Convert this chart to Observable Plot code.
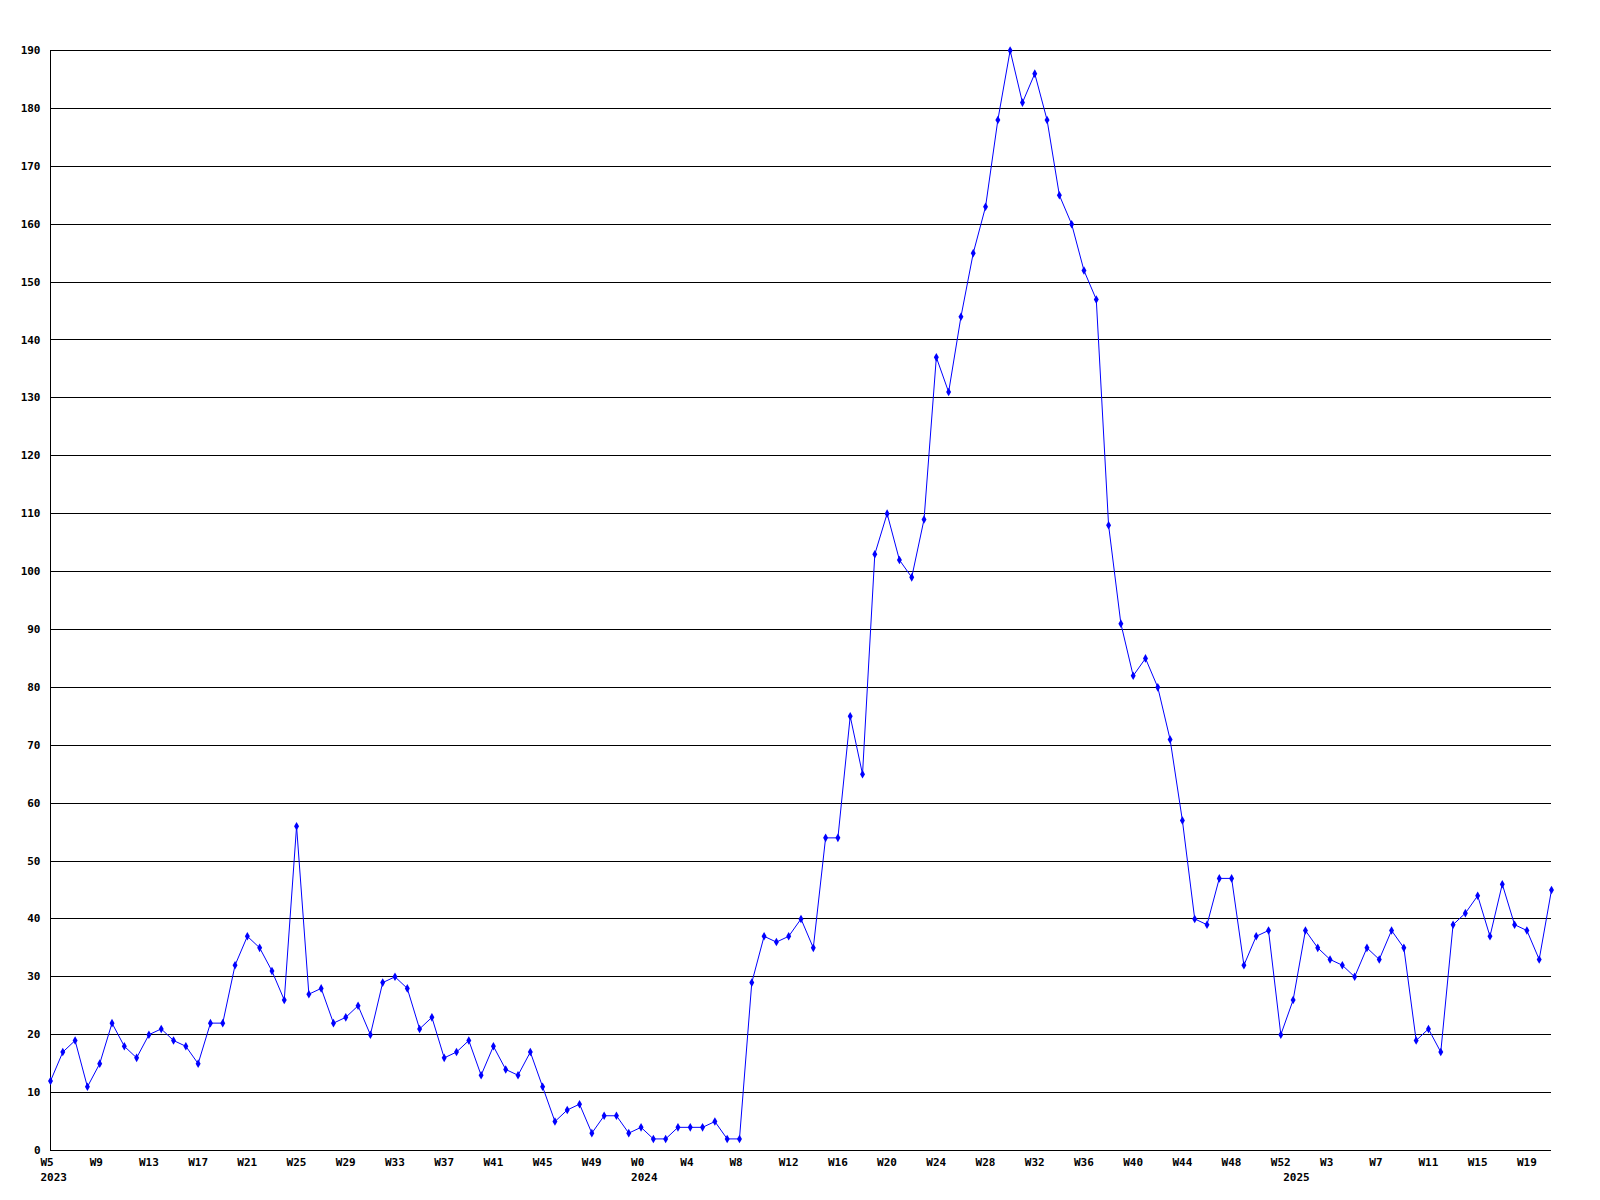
<!DOCTYPE html>
<html>
<head>
<meta charset="utf-8">
<script src="https://cdn.jsdelivr.net/npm/d3@7"></script>
<script src="https://cdn.jsdelivr.net/npm/@observablehq/plot@0.6"></script>
<style>
  html, body { margin: 0; padding: 0; background: #fff; }
  #chart svg { display: block; }
</style>
</head>
<body>
<div id="chart"></div>
<script>
// Weekly counts
const startWeek2023 = 5;
const values2023 = [12,17,19,11,15,22,18,16,20,21,19,18,15,22,22,32,37,35,31,26,56,27,28,22,23,25,20,29,30,28,21,23,16,17,19,13,18,14,13,17,11,5,7,8,3,6,6,3];
const startWeek2024 = 0;
const values2024 = [4,2,2,4,4,4,5,2,2,29,37,36,37,40,35,54,54,75,65,103,110,102,99,109,137,131,144,155,163,178,190,181,186,178,165,160,152,147,108,91,82,85,80,71,57,40,39,47,47,32,37,38,20];
const startWeek2025 = 0;
const values2025 = [26,38,35,33,32,30,35,33,38,35,19,21,17,39,41,44,37,46,39,38,33,45];
const years = [2023, 2024, 2025];
const yTicks = [0,10,20,30,40,50,60,70,80,90,100,110,120,130,140,150,160,170,180,190];

// Build table
const series = [[values2023, startWeek2023], [values2024, startWeek2024], [values2025, startWeek2025]];
const data = [];
series.forEach(([vals, start], k) => {
  vals.forEach((v, j) => data.push({i: data.length, year: years[k], week: start + j, value: v}));
});
const xTicks = data.filter(d => d.i % 4 === 0).map(d => d.i);
const weekLabel = new Map(data.map(d => [d.i, "W" + d.week]));
const yearStarts = years.map(y => data.find(d => d.year === y));

const font = "'DejaVu Sans Mono', 'Liberation Mono', monospace";

const chart = Plot.plot({
  width: 1600,
  height: 1200,
  marginLeft: 50,
  marginRight: 49,
  marginTop: 50,
  marginBottom: 50,
  style: {fontFamily: font, fontSize: "11px", fontWeight: "bold", background: "#fff", color: "#000"},
  x: {type: "linear", domain: [0, data.length - 1], ticks: xTicks},
  y: {type: "linear", domain: [0, 190], ticks: yTicks},
  marks: [
    Plot.ruleY(yTicks, {stroke: "#000", strokeWidth: 1, shapeRendering: "crispEdges"}),
    Plot.ruleX([0], {y1: 0, y2: 190, stroke: "#000", strokeWidth: 1, shapeRendering: "crispEdges"}),
    Plot.axisY({ticks: yTicks, tickSize: 0, tickPadding: 10, label: null, fontWeight: "bold"}),
    Plot.axisX({ticks: xTicks, tickSize: 0, tickPadding: 8, label: null, textAnchor: "start", dx: -10,
                tickFormat: i => weekLabel.get(i), fontWeight: "bold"}),
    Plot.text(yearStarts, {x: "i", y: () => 0, text: d => String(d.year), textAnchor: "start",
                           dx: -10, dy: 27, fontWeight: "bold", clip: false}),
    Plot.line(data, {x: "i", y: "value", stroke: "#0000ff", strokeWidth: 1}),
    Plot.dot(data, {x: "i", y: "value", symbol: "diamond", r: 2.6, fill: "#0000ff", stroke: "none"})
  ]
});
document.getElementById("chart").appendChild(chart);
</script>
</body>
</html>
